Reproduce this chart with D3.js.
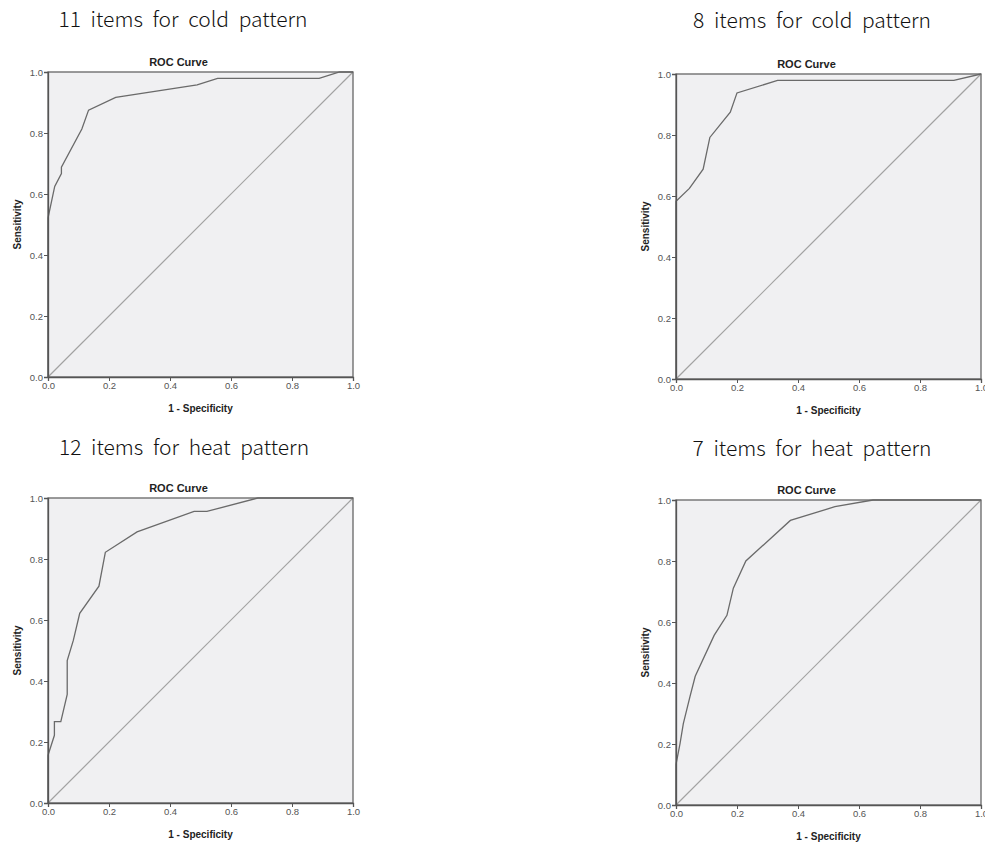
<!DOCTYPE html>
<html>
<head>
<meta charset="utf-8">
<script src="https://cdn.jsdelivr.net/npm/d3@7"></script>
<style>
  body { margin: 0; background: #fff; }
  svg { display: block; }
</style>
</head>
<body>
<div id="chart"></div>
<script>
// ROC points, [1 - specificity, sensitivity]
const cold11 = [
  [0, 0], [0, 0.521], [0.022, 0.625], [0.044, 0.667], [0.044, 0.688],
  [0.111, 0.813], [0.133, 0.875], [0.222, 0.917], [0.489, 0.958],
  [0.556, 0.979], [0.889, 0.979], [0.956, 1], [1, 1]
];
const cold8 = [
  [0, 0], [0, 0.583], [0.044, 0.625], [0.089, 0.688], [0.111, 0.792],
  [0.178, 0.875], [0.2, 0.938], [0.333, 0.979], [0.911, 0.979], [1, 1]
];
const heat12 = [
  [0, 0], [0, 0.156], [0.021, 0.222], [0.021, 0.267], [0.042, 0.267],
  [0.063, 0.356], [0.063, 0.467], [0.083, 0.533], [0.104, 0.622],
  [0.167, 0.711], [0.188, 0.822], [0.292, 0.889], [0.479, 0.956],
  [0.521, 0.956], [0.688, 1], [1, 1]
];
const heat7 = [
  [0, 0], [0, 0.133], [0.013, 0.2], [0.024, 0.267], [0.046, 0.356],
  [0.063, 0.422], [0.125, 0.556], [0.167, 0.622], [0.188, 0.711],
  [0.229, 0.8], [0.375, 0.933], [0.521, 0.978], [0.646, 1], [1, 1]
];
const panelTitles = [
  '11 items for cold pattern', '8 items for cold pattern',
  '12 items for heat pattern', '7 items for heat pattern'
];
const ticks = [0, 0.2, 0.4, 0.6, 0.8, 1.0];

const panels = [
  { title: panelTitles[0], data: cold11, left: 48, top: 72, titleX: 183, titleY: 27 },
  { title: panelTitles[1], data: cold8, left: 676, top: 74, titleX: 812, titleY: 28 },
  { title: panelTitles[2], data: heat12, left: 48, top: 498, titleX: 184, titleY: 455 },
  { title: panelTitles[3], data: heat7, left: 676, top: 500, titleX: 812, titleY: 456 }
];
const size = 305;

const svg = d3.select('#chart').append('svg')
  .attr('width', 985).attr('height', 843);

function drawPanel(p) {
  // Caption above each chart
  svg.append('text')
    .attr('x', p.titleX).attr('y', p.titleY)
    .attr('text-anchor', 'middle')
    .attr('font-family', "'Noto Sans CJK KR', 'DejaVu Sans', sans-serif")
    .attr('font-size', '21px')
    .attr('font-weight', 300)
    .attr('word-spacing', '5px')
    .attr('fill', '#111')
    .text(p.title);

  const g = svg.append('g').attr('transform', `translate(${p.left},${p.top})`);
  const x = d3.scaleLinear().domain([0, 1]).range([0, size]);
  const y = d3.scaleLinear().domain([0, 1]).range([size, 0]);

  g.append('rect')
    .attr('width', size).attr('height', size)
    .attr('fill', '#f0f0f2');

  // Reference diagonal
  g.append('line')
    .attr('x1', x(0)).attr('y1', y(0))
    .attr('x2', x(1)).attr('y2', y(1))
    .attr('stroke', '#a2a2a2').attr('stroke-width', 1.2);

  const line = d3.line().x(d => x(d[0])).y(d => y(d[1]));
  g.append('path')
    .datum(p.data)
    .attr('d', line)
    .attr('fill', 'none')
    .attr('stroke', '#6a6a6a')
    .attr('stroke-width', 1.3);

  g.append('rect')
    .attr('width', size).attr('height', size)
    .attr('fill', 'none')
    .attr('stroke', '#666').attr('stroke-width', 1.3);

  const xAxis = g.append('g').attr('transform', `translate(0,${size})`)
    .call(d3.axisBottom(x).tickValues(ticks).tickFormat(d3.format('.1f')).tickSize(4).tickPadding(1));
  const yAxis = g.append('g')
    .call(d3.axisLeft(y).tickValues(ticks).tickFormat(d3.format('.1f')).tickSize(4).tickPadding(1));
  [xAxis, yAxis].forEach(a => {
    a.select('.domain').attr('stroke', '#555').attr('stroke-width', 1.3);
    a.selectAll('.tick line').attr('stroke', '#555');
    a.selectAll('.tick text')
      .attr('fill', '#555')
      .attr('font-family', "'Liberation Sans', Arial, sans-serif")
      .attr('font-size', '9.5px');
  });

  g.append('text')
    .attr('x', size / 2 - 22).attr('y', -6)
    .attr('text-anchor', 'middle')
    .attr('font-family', "'Liberation Sans', Arial, sans-serif")
    .attr('font-size', '11px').attr('font-weight', 'bold')
    .attr('fill', '#222')
    .text('ROC Curve');

  g.append('text')
    .attr('x', size / 2).attr('y', size + 35)
    .attr('text-anchor', 'middle')
    .attr('font-family', "'Liberation Sans', Arial, sans-serif")
    .attr('font-size', '10px').attr('font-weight', 'bold')
    .attr('fill', '#222')
    .text('1 - Specificity');

  g.append('text')
    .attr('transform', `translate(${-27},${size / 2}) rotate(-90)`)
    .attr('text-anchor', 'middle')
    .attr('font-family', "'Liberation Sans', Arial, sans-serif")
    .attr('font-size', '10px').attr('font-weight', 'bold')
    .attr('fill', '#222')
    .text('Sensitivity');
}

panels.forEach(drawPanel);
</script>
</body>
</html>
